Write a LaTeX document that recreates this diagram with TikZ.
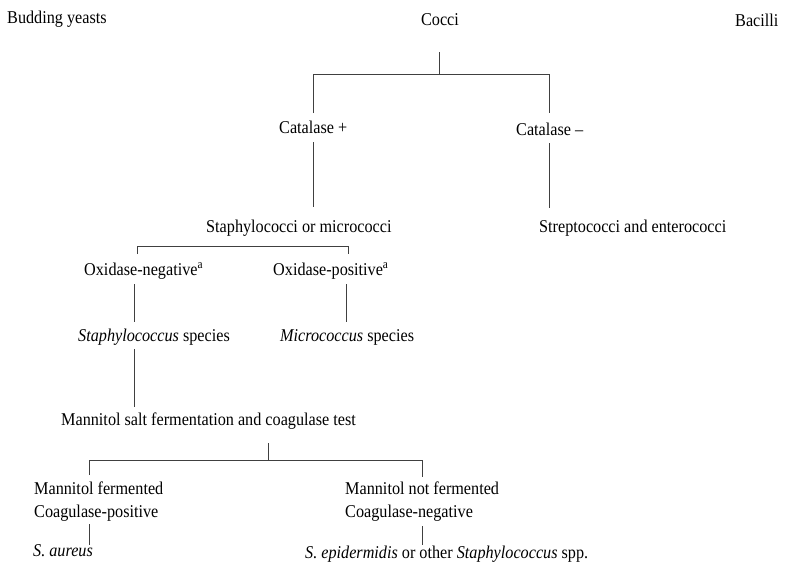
\documentclass[tikz,border=0pt]{standalone}
\usepackage{fontspec}
\setmainfont{Liberation Serif}[FakeStretch=0.9]
\begin{document}
\begin{tikzpicture}[x=1pt,y=-1pt,
  lbl/.style={inner sep=0pt,anchor=base west,font=\fontsize{18}{20}\selectfont},
  conn/.style={draw=black!75,line width=0.7pt}]
\useasboundingbox (0,0) rectangle (792,565);
% texts
\node[lbl] (bud) at (7,23) {Budding yeasts};
\node[lbl,anchor=base] (cocci) at (440,25) {Cocci};
\node[lbl] (bac) at (735,26) {Bacilli};
\node[lbl] (catp) at (279,133) {Catalase +};
\node[lbl] (catn) at (516,135) {Catalase \textendash};
\node[lbl] (stmi) at (206,232) {Staphylococci or micrococci};
\node[lbl] (strep) at (539,232) {Streptococci and enterococci};
\node[lbl] (oxn) at (84,275) {Oxidase-negative\textsuperscript{a}};
\node[lbl] (oxp) at (273,275) {Oxidase-positive\textsuperscript{a}};
\node[lbl] (stsp) at (78,341) {\textit{Staphylococcus} species};
\node[lbl] (misp) at (280,341) {\textit{Micrococcus} species};
\node[lbl] (mann) at (61,425) {Mannitol salt fermentation and coagulase test};
\node[lbl] (mf) at (34,494) {Mannitol fermented};
\node[lbl] (cp) at (34,517) {Coagulase-positive};
\node[lbl] (mnf) at (345,494) {Mannitol not fermented};
\node[lbl] (cn) at (345,517) {Coagulase-negative};
\node[lbl] (aur) at (33,556) {\textit{S. aureus}};
\node[lbl] (epi) at (305,558) {\textit{S. epidermidis} or other \textit{Staphylococcus} spp.};
% connector coordinates
\coordinate (c1a) at (439,52);  \coordinate (c1b) at (439,74);
\coordinate (c1l) at (313,74);  \coordinate (c1r) at (549,74);
\coordinate (c1ld) at (313,113); \coordinate (c1rd) at (549,113);
\coordinate (c2a) at (313,142); \coordinate (c2b) at (313,207);
\coordinate (c3a) at (549,143); \coordinate (c3b) at (549,208);
\coordinate (c4l) at (137,246); \coordinate (c4r) at (348,246);
\coordinate (c4ld) at (137,254); \coordinate (c4rd) at (348,254);
\coordinate (c5a) at (134,284); \coordinate (c5b) at (134,322);
\coordinate (c6a) at (346,284); \coordinate (c6b) at (346,322);
\coordinate (c7a) at (134,349); \coordinate (c7b) at (134,407);
\coordinate (c8a) at (268,443); \coordinate (c8b) at (268,460);
\coordinate (c8l) at (89,460);  \coordinate (c8r) at (422,460);
\coordinate (c8ld) at (89,475); \coordinate (c8rd) at (422,477);
\coordinate (c9a) at (89,524);  \coordinate (c9b) at (89,545);
\coordinate (c10a) at (422,526); \coordinate (c10b) at (422,545);
% connectors
\draw[conn] (c1a) -- (c1b);
\draw[conn] (c1ld) -- (c1l) -- (c1r) -- (c1rd);
\draw[conn] (c2a) -- (c2b);
\draw[conn] (c3a) -- (c3b);
\draw[conn] (c4ld) -- (c4l) -- (c4r) -- (c4rd);
\draw[conn] (c5a) -- (c5b);
\draw[conn] (c6a) -- (c6b);
\draw[conn] (c7a) -- (c7b);
\draw[conn] (c8a) -- (c8b);
\draw[conn] (c8ld) -- (c8l) -- (c8r) -- (c8rd);
\draw[conn] (c9a) -- (c9b);
\draw[conn] (c10a) -- (c10b);
\end{tikzpicture}
\end{document}
